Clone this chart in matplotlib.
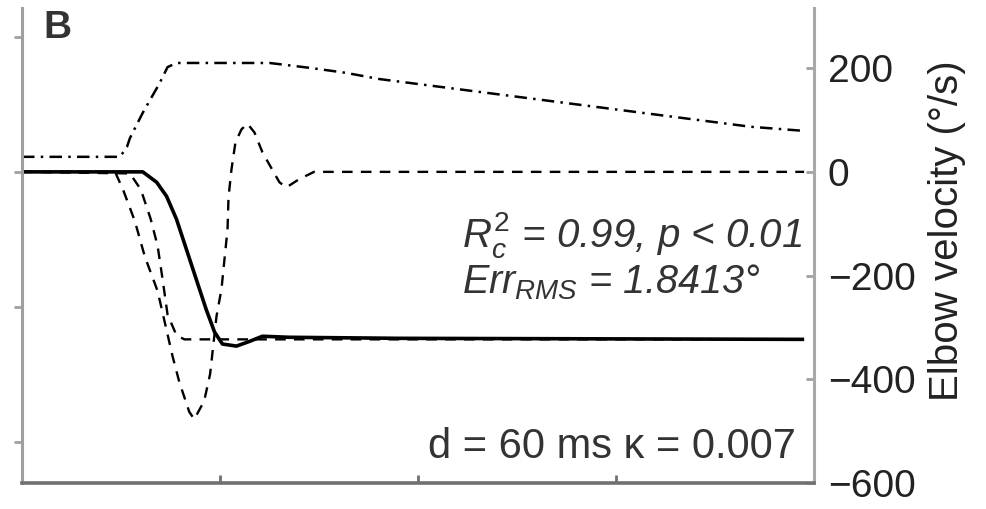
import matplotlib
matplotlib.use("Agg")
import matplotlib.pyplot as plt

plt.rcParams['font.family'] = ['Liberation Sans', 'DejaVu Sans']
plt.rcParams['mathtext.fontset'] = 'custom'
plt.rcParams['mathtext.rm'] = 'Liberation Sans'
plt.rcParams['mathtext.it'] = 'Liberation Sans:italic'

# ---- data (time in ms, velocity in deg/s) ----
dashdot_t = [0, 99, 106, 109, 122, 139, 147, 156, 250, 293, 327, 361, 736, 790]
dashdot_v = [29, 29, 48, 65, 114, 171, 202, 210, 210, 200, 191, 179, 87, 79]

dip_t = [0, 94, 102, 114, 124, 137, 152, 159, 169, 174, 184, 190, 196.5, 201.5,
         204.5, 207.6, 208.6, 211.6, 215.6, 221.7, 227.7, 234.8, 242.8, 249.9,
         260, 267, 280, 295, 790]
dip_v = [0, 0, -34, -95, -163, -230, -355, -406, -463, -477, -442, -390, -278, -226,
         -169, -111, -49, 5, 57, 82, 93, 76, 38, 14, -20, -30, -14, 0, 0]

target_t = [0, 109, 120, 130, 137, 142, 147, 156, 164, 790]
target_v = [0, -3, -34, -91, -143, -207, -275, -315, -323, -323]

solid_t = [0, 122, 136, 146, 156, 166, 176, 186, 194.5, 202.5, 216.6, 229.7, 242.8, 270, 381, 790]
solid_v = [0, 0, -20, -47, -91, -149, -207, -265, -309, -332, -336, -327, -317, -319, -321, -323]

x_ticks = [0, 200, 400, 600, 800]
y_ticks = [200, 0, -200, -400, -600]
y_tick_labels = ['200', '0', '\u2212200', '\u2212400', '\u2212600']
left_ticks = [50, 0, -50, -100]  # left (angle) axis, labels cropped in original
left_scale = 5.2

fig = plt.figure(figsize=(9.86, 5.09), dpi=100)
ax = fig.add_axes([22/986, 26/509, (814-22)/986, (483-8)/509])
axl = ax.twinx()

ax.plot(dashdot_t, dashdot_v, color='black', lw=1.8, linestyle=(0, (5, 2.5, 1, 2.5)))
ax.plot(dip_t, dip_v, color='black', lw=1.7, linestyle=(0, (4.5, 3.5)))
ax.plot(target_t, target_v, color='black', lw=1.7, linestyle=(0, (4.5, 3.5)))
ax.plot(solid_t, solid_v, color='black', lw=2.6, solid_capstyle='butt')

ax.set_xlim(0, 800)
ax.set_ylim(-600, 316)
ax.set_xticks(x_ticks)
ax.set_xticklabels([])
ax.set_yticks(y_ticks)
ax.set_yticklabels(y_tick_labels)
ax.yaxis.tick_right()
ax.yaxis.set_label_position('right')
ax.tick_params(axis='y', direction='in', length=6, width=2, color='#a0a0a0',
               labelsize=28, pad=10, labelcolor='#222222')
ax.tick_params(axis='x', direction='in', length=6, width=2, color='#707070')
ax.set_ylabel('Elbow velocity (\u00b0/s)', fontsize=29, color='#222222')
ax.yaxis.set_label_coords((928-22)/792, (483-231)/475)

ax.spines['top'].set_visible(False)
ax.spines['left'].set_color('#a0a0a0')
ax.spines['left'].set_linewidth(2.2)
ax.spines['right'].set_color('#a8a8a8')
ax.spines['right'].set_linewidth(2.2)
ax.spines['bottom'].set_color('#707070')
ax.spines['bottom'].set_linewidth(2.6)

# left axis ticks (no labels)
axl.set_ylim(-600/left_scale, 316/left_scale)
axl.yaxis.tick_left()
axl.set_yticks(left_ticks)
axl.set_yticklabels([])
axl.tick_params(axis='y', direction='out', length=6, width=2, color='#a0a0a0')
for s in ['top', 'right', 'bottom', 'left']:
    axl.spines[s].set_visible(False)

ax.text((462-22)/792, (483-247)/475, r'$R_c^2$ = 0.99, $p$ < 0.01', transform=ax.transAxes,
        fontsize=29, style='italic', color='#333333', ha='left', va='baseline')
ax.text((462-22)/792, (483-293)/475, r'$Err_{RMS}$ = 1.8413°', transform=ax.transAxes,
        fontsize=28.5, style='italic', color='#333333', ha='left', va='baseline')
ax.text((428-22)/792, (483-458)/475, 'd = 60 ms \u03ba = 0.007', transform=ax.transAxes,
        fontsize=30, color='#333333', ha='left', va='baseline')

fig.text(43/986, 1-10/509, 'B', fontsize=28, fontweight='bold', color='#333333',
         ha='left', va='top')

fig.savefig('out.png', dpi=100, facecolor='white')
